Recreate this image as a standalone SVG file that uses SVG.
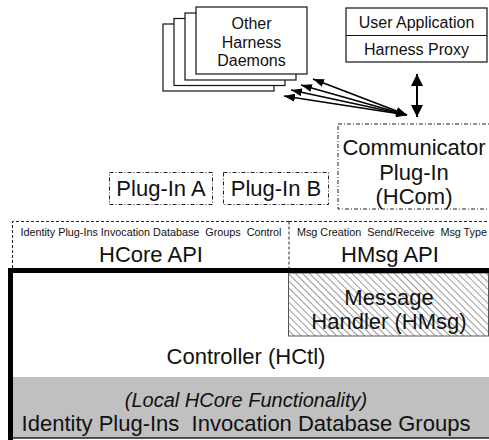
<svg xmlns="http://www.w3.org/2000/svg" width="489" height="440" viewBox="0 0 489 440">
<style>
text{font-family:"Liberation Sans",Arial,sans-serif;fill:#111;text-anchor:middle}
.s16{font-size:16px}
.s22{font-size:22px}
.s11{font-size:10.8px;white-space:pre}
.box{fill:#fff;stroke:#111;stroke-width:1.2}
.dd{fill:none;stroke:#222;stroke-width:1;stroke-dasharray:4 2 1 2}
.da{fill:none;stroke:#222;stroke-width:1;stroke-dasharray:3 2}
.arr{stroke:#000;stroke-width:1.5;fill:none;marker-start:url(#ah);marker-end:url(#ah)}
</style>
<defs>
<marker id="ah" markerUnits="userSpaceOnUse" markerWidth="11" markerHeight="8" refX="11" refY="4" orient="auto-start-reverse"><path d="M0,0 L11,4 L0,8 z" fill="#000"/></marker>
<marker id="ah2" markerUnits="userSpaceOnUse" markerWidth="11" markerHeight="12" refX="12" refY="6" orient="auto-start-reverse"><path d="M0,0 L12,6 L0,12 z" fill="#000"/></marker>
<pattern id="hatch" patternUnits="userSpaceOnUse" width="5" height="5" patternTransform="rotate(-45)"><rect width="5" height="5" fill="#fff"/><rect x="0" y="0" width="1" height="5" fill="#9a9a9a"/></pattern>
</defs>

<g id="daemons">
<rect class="box" x="163" y="24" width="111" height="67"/>
<rect class="box" x="174" y="18.5" width="111" height="67"/>
<rect class="box" x="185" y="13" width="111" height="67"/>
<rect class="box" x="196" y="7" width="111" height="67"/>
<text class="s16" x="251.5" y="29">Other</text>
<text class="s16" x="251.5" y="47.5">Harness</text>
<text class="s16" x="251.5" y="66">Daemons</text>
</g>

<g id="userapp">
<rect class="box" x="346" y="8" width="141" height="54"/>
<line x1="346" y1="35.5" x2="487" y2="35.5" stroke="#111" stroke-width="1.2"/>
<text class="s16" x="416.5" y="27.5">User Application</text>
<text class="s16" x="416.5" y="54.5">Harness Proxy</text>
</g>

<g id="connectors">
<line class="arr" x1="407" y1="115" x2="313" y2="79"/>
<line class="arr" x1="407" y1="115" x2="301" y2="85"/>
<line class="arr" x1="407" y1="115" x2="291" y2="90"/>
<line class="arr" x1="407" y1="115" x2="284" y2="96"/>
<line x1="417" y1="74" x2="417" y2="117" stroke="#000" stroke-width="2" marker-start="url(#ah2)" marker-end="url(#ah2)"/>
</g>

<g id="hcom">
<rect class="dd" x="338" y="124" width="152" height="85"/>
<text class="s22" x="414" y="155">Communicator</text>
<text class="s22" x="414" y="180">Plug-In</text>
<text class="s22" x="414" y="204">(HCom)</text>
</g>

<g id="pluginA">
<rect class="dd" x="109.5" y="172.5" width="103" height="32"/>
<text class="s22" x="161" y="196">Plug-In A</text>
</g>
<g id="pluginB">
<rect class="dd" x="223.5" y="172.5" width="105" height="32"/>
<text class="s22" x="276" y="196">Plug-In B</text>
</g>

<g id="hcoreapi">
<path class="da" d="M12.5,268 V221.5 H289"/>
<text class="s11" x="151" y="236">Identity Plug-Ins Invocation Database  Groups  Control</text>
<text class="s22" x="151" y="262">HCore API</text>
</g>
<g id="hmsgapi">
<path class="da" d="M289,221.5 H490 M289,221.5 V268"/>
<text class="s11" x="392" y="236">Msg Creation  Send/Receive  Msg Type</text>
<text class="s22" x="390" y="262">HMsg API</text>
</g>

<g id="controller">
<rect x="13" y="273" width="476" height="165" fill="#fff"/>
<text class="s22" x="246" y="364">Controller (HCtl)</text>
</g>

<g id="hmsg">
<rect x="288.5" y="273" width="200" height="63" fill="url(#hatch)" stroke="#555" stroke-width="1"/>
<text class="s22" x="389" y="305">Message</text>
<text class="s22" x="389" y="329">Handler (HMsg)</text>
</g>

<g id="localcore">
<rect x="13" y="377" width="476" height="61" fill="#c0c0c0"/>
<line x1="13" y1="438" x2="489" y2="438" stroke="#222" stroke-width="1.5"/>
<text class="s22" x="246" y="407" style="font-style:italic;font-size:20px">(Local HCore Functionality)</text>
<text class="s22" x="246" y="431" style="white-space:pre">Identity Plug-Ins  Invocation Database Groups</text>
</g>

<g id="frame">
<path d="M10.5,440 V270.5 H489" fill="none" stroke="#000" stroke-width="5"/>
</g>
</svg>
